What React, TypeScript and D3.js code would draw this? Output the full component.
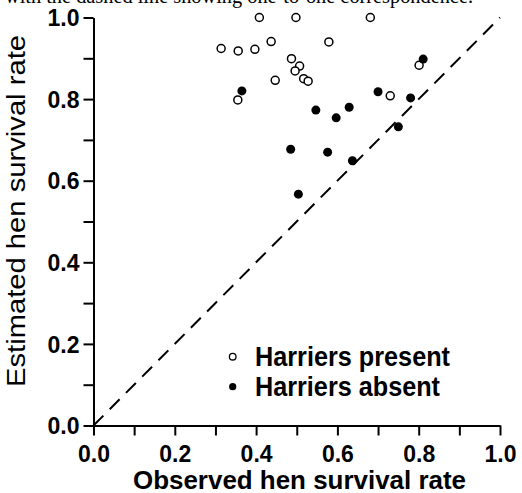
import React, { useEffect, useRef } from 'react';
import * as d3 from 'd3';

// observed vs estimated hen survival
const presentObserved = [0.408, 0.498, 0.681, 0.314, 0.356, 0.397, 0.437, 0.579, 0.487, 0.507, 0.496, 0.517, 0.528, 0.447, 0.355, 0.801, 0.73];
const presentEstimated = [1.0, 1.0, 1.0, 0.924, 0.918, 0.922, 0.941, 0.94, 0.899, 0.881, 0.869, 0.85, 0.844, 0.846, 0.798, 0.883, 0.808];
const absentObserved = [0.365, 0.547, 0.597, 0.629, 0.7, 0.811, 0.78, 0.75, 0.485, 0.576, 0.637, 0.504];
const absentEstimated = [0.82, 0.773, 0.754, 0.78, 0.818, 0.898, 0.803, 0.732, 0.677, 0.67, 0.649, 0.567];
const tickValues = [0, 0.1, 0.2, 0.3, 0.4, 0.5, 0.6, 0.7, 0.8, 0.9, 1.0];
const legendLabels = ['Harriers present', 'Harriers absent'];

const W = 522;
const H = 493;
const SANS = '"Liberation Sans", Arial, sans-serif';

export default function App() {
  const ref = useRef<SVGSVGElement>(null);

  useEffect(() => {
    const svg = d3.select(ref.current);
    svg.selectAll('*').remove();

    const x = d3.scaleLinear().domain([0, 1]).range([93.5, 500]);
    const y = d3.scaleLinear().domain([0, 1]).range([425.5, 17.5]);
    const fmt = (d: any) => (Math.round(d * 10) % 2 === 0 ? d3.format('.1f')(d) : '');

    // caption remnant cut off at the top
    svg.append('text')
      .attr('x', 5).attr('y', 3)
      .attr('font-family', '"Liberation Serif", "Times New Roman", serif')
      .attr('font-size', 20)
      .attr('textLength', 468)
      .attr('lengthAdjust', 'spacingAndGlyphs')
      .text('with the dashed line showing one-to-one correspondence.');

    const xAxis = d3.axisBottom(x).tickValues(tickValues).tickSize(10).tickSizeOuter(0).tickPadding(10).tickFormat(fmt);
    const yAxis = d3.axisLeft(y).tickValues(tickValues).tickSize(10).tickSizeOuter(0).tickPadding(4).tickFormat(fmt);

    const gx = svg.append('g').attr('transform', `translate(0,${y(0)})`).call(xAxis);
    const gy = svg.append('g').attr('transform', `translate(${x(0)},0)`).call(yAxis);

    [gx, gy].forEach(g => {
      g.select('.domain').attr('stroke', '#000').attr('stroke-width', 2);
      g.selectAll('.tick line').attr('stroke', '#000').attr('stroke-width', 2);
      g.selectAll('.tick text')
        .attr('fill', '#000')
        .attr('font-family', SANS)
        .attr('font-weight', 'bold')
        .attr('font-size', 23);
    });
    gx.selectAll('.tick text').attr('dy', '0.71em');
    gy.selectAll('.tick text').attr('dy', '0.36em');

    // 1:1 line
    svg.append('line')
      .attr('x1', x(0)).attr('y1', y(0))
      .attr('x2', x(1)).attr('y2', y(1))
      .attr('stroke', '#000')
      .attr('stroke-width', 2)
      .attr('stroke-dasharray', '14,9');

    svg.append('g').selectAll('circle')
      .data(presentObserved)
      .join('circle')
      .attr('cx', d => x(d))
      .attr('cy', (d, i) => y(presentEstimated[i]))
      .attr('r', 4)
      .attr('fill', '#fff')
      .attr('stroke', '#000')
      .attr('stroke-width', 1.5);

    svg.append('g').selectAll('circle')
      .data(absentObserved)
      .join('circle')
      .attr('cx', d => x(d))
      .attr('cy', (d, i) => y(absentEstimated[i]))
      .attr('r', 4.5)
      .attr('fill', '#000');

    // legend
    const legend = svg.append('g');
    legendLabels.forEach((label, i) => {
      const ly = 356.7 + i * 30;
      legend.append('circle')
        .attr('cx', 232.7).attr('cy', ly)
        .attr('r', i === 0 ? 3.3 : 3.6)
        .attr('fill', i === 0 ? '#fff' : '#000')
        .attr('stroke', '#000')
        .attr('stroke-width', i === 0 ? 1.3 : 0);
      legend.append('text')
        .attr('x', 255).attr('y', ly + 9.5)
        .attr('font-family', SANS)
        .attr('font-weight', 'bold')
        .attr('font-size', 28)
        .attr('textLength', i === 0 ? 195 : 185)
        .attr('lengthAdjust', 'spacingAndGlyphs')
        .text(label);
    });

    svg.append('text')
      .attr('x', 133).attr('y', 488.5)
      .attr('font-family', SANS)
      .attr('font-weight', 'bold')
      .attr('font-size', 25)
      .attr('textLength', 333)
      .attr('lengthAdjust', 'spacingAndGlyphs')
      .text('Observed hen survival rate');

    svg.append('text')
      .attr('transform', 'translate(25,211) rotate(-90)')
      .attr('text-anchor', 'middle')
      .attr('font-family', SANS)
      .attr('font-size', 26)
      .attr('textLength', 352)
      .attr('lengthAdjust', 'spacingAndGlyphs')
      .text('Estimated hen survival rate');
  }, []);

  return (
    <div style={{ position: 'absolute', left: 0, top: 0 }}>
      <svg ref={ref} width={W} height={H} style={{ display: 'block', background: '#fff' }} />
    </div>
  );
}
